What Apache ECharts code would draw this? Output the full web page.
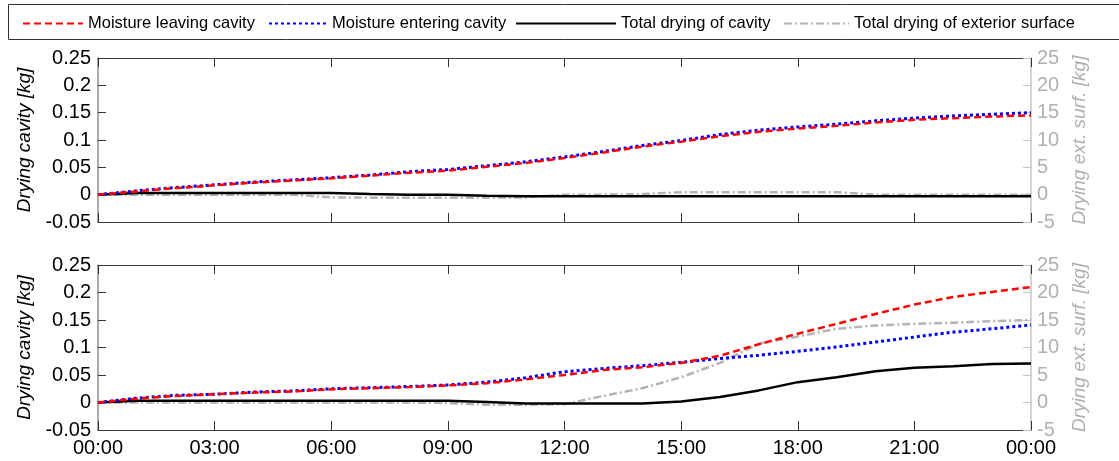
<!DOCTYPE html>
<html>
<head>
<meta charset="utf-8">
<script src="https://cdn.jsdelivr.net/npm/echarts@6/dist/echarts.min.js"></script>
<style>
  html, body { margin: 0; padding: 0; background: #fff; }
  #chart { width: 1119px; height: 461px; }
</style>
</head>
<body>
<div id="chart"></div>
<script>
const hours = [0, 1, 2, 3, 4, 5, 6, 7, 8, 9, 10, 11, 12, 13, 14, 15, 16, 17, 18, 19, 20, 21, 22, 23, 24]
const xTickLabels = ['00:00', '03:00', '06:00', '09:00', '12:00', '15:00', '18:00', '21:00', '00:00']

// upper panel
const topLeaving = [0, 0.006, 0.012, 0.017, 0.022, 0.026, 0.030, 0.035, 0.040, 0.044, 0.051, 0.058, 0.067, 0.077, 0.088, 0.097, 0.107, 0.115, 0.121, 0.126, 0.132, 0.137, 0.140, 0.143, 0.145]
const topEntering = [0, 0.007, 0.013, 0.018, 0.023, 0.027, 0.031, 0.036, 0.042, 0.046, 0.053, 0.060, 0.069, 0.079, 0.090, 0.099, 0.110, 0.118, 0.124, 0.129, 0.135, 0.140, 0.144, 0.147, 0.150]
const topCavity = [0, 0.003, 0.003, 0.003, 0.003, 0.003, 0.003, 0.001, 0, 0, -0.002, -0.003, -0.003, -0.003, -0.003, -0.003, -0.003, -0.003, -0.003, -0.003, -0.003, -0.003, -0.003, -0.003, -0.003]
const topSurface = [0, 0, 0, 0, 0, 0, -0.5, -0.55, -0.55, -0.55, -0.55, -0.5, 0, 0, 0.1, 0.45, 0.45, 0.45, 0.45, 0.45, 0, 0, 0, 0, 0]

// lower panel
const botLeaving = [0, 0.007, 0.012, 0.015, 0.018, 0.020, 0.024, 0.026, 0.028, 0.031, 0.035, 0.042, 0.050, 0.059, 0.064, 0.072, 0.085, 0.106, 0.125, 0.143, 0.161, 0.178, 0.192, 0.201, 0.210]
const botEntering = [0, 0.008, 0.013, 0.015, 0.019, 0.021, 0.025, 0.027, 0.029, 0.032, 0.037, 0.045, 0.056, 0.062, 0.067, 0.073, 0.080, 0.086, 0.093, 0.101, 0.110, 0.119, 0.128, 0.134, 0.141]
const botCavity = [0, 0.003, 0.003, 0.003, 0.003, 0.003, 0.003, 0.003, 0.003, 0.003, 0.001, -0.002, -0.002, -0.002, -0.002, 0.002, 0.010, 0.022, 0.037, 0.046, 0.057, 0.063, 0.066, 0.070, 0.071]
const botSurface = [0, 0, 0, 0, 0, 0, 0, 0, 0, -0.1, -0.4, -0.4, -0.3, 1.2, 2.6, 4.6, 7.2, 10.7, 12.0, 13.4, 14.0, 14.3, 14.5, 14.8, 15.0]

const names = ['Moisture leaving cavity', 'Moisture entering cavity', 'Total drying of cavity', 'Total drying of exterior surface']
const styles = [
  { color: '#ff0000', width: 2.5, type: [7, 4] },
  { color: '#0000ff', width: 3, type: [3, 3] },
  { color: '#000000', width: 2.5, type: 'solid' },
  { color: '#b4b4b4', width: 2.5, type: [8, 3, 2, 3] }
]

const font = "'Liberation Sans', Arial, sans-serif"
const greyText = '#b0b0b0'
const pair = vals => hours.map((h, i) => [h, vals[i]])

const xAxisFor = (gridIndex, position, showLabels) => ({
  type: 'value',
  gridIndex,
  position,
  min: 0,
  max: 24,
  interval: 3,
  axisLine: { show: true, onZero: false, lineStyle: { color: '#404040', width: 1 } },
  axisTick: { show: true, inside: true, length: 9, lineStyle: { color: '#333' } },
  axisLabel: {
    show: showLabels,
    margin: 8,
    color: '#000',
    fontSize: 20,
    fontFamily: font,
    formatter: v => xTickLabels[Math.round(v / 3)]
  },
  splitLine: { show: false }
})

const leftAxisFor = gridIndex => ({
  type: 'value',
  gridIndex,
  position: 'left',
  min: -0.05,
  max: 0.25,
  interval: 0.05,
  name: 'Drying cavity [kg]',
  nameLocation: 'middle',
  nameRotate: 90,
  nameGap: 64,
  nameTextStyle: { color: '#000', fontSize: 19, fontStyle: 'italic', fontFamily: font },
  axisLine: { show: true, onZero: false, lineStyle: { color: '#8c8c8c', width: 1.5 } },
  axisTick: { show: true, inside: true, length: 8, lineStyle: { color: '#333' } },
  axisLabel: { color: '#000', fontSize: 20, fontFamily: font, margin: 7 },
  splitLine: { show: false }
})

const rightAxisFor = gridIndex => ({
  type: 'value',
  gridIndex,
  position: 'right',
  min: -5,
  max: 25,
  interval: 5,
  name: 'Drying ext. surf. [kg]',
  nameLocation: 'middle',
  nameRotate: 90,
  nameGap: 35,
  nameTextStyle: { color: greyText, fontSize: 19, fontStyle: 'italic', fontFamily: font },
  axisLine: { show: true, onZero: false, lineStyle: { color: '#c4c4c4', width: 1.5 } },
  axisTick: { show: true, inside: true, length: 8, lineStyle: { color: '#c4c4c4' } },
  axisLabel: { color: greyText, fontSize: 20, fontFamily: font, margin: 6 },
  splitLine: { show: false }
})

const lineSeries = (idx, xAxisIndex, yAxisIndex, vals) => ({
  name: names[idx],
  type: 'line',
  xAxisIndex,
  yAxisIndex,
  symbol: 'none',
  data: pair(vals),
  lineStyle: { color: styles[idx].color, width: styles[idx].width, type: styles[idx].type },
  itemStyle: { color: styles[idx].color },
  z: 4 - idx
})

// one legend per item so each sample line can have its own length
const legendPos = [
  { left: 22, width: 60 },
  { left: 268, width: 58 },
  { left: 515, width: 100 },
  { left: 783, width: 65 }
]

const chart = echarts.init(document.getElementById('chart'))
chart.setOption({
  backgroundColor: '#fff',
  animation: false,
  textStyle: { fontFamily: font },
  graphic: [{
    type: 'rect',
    shape: { x: 8.5, y: 4.5, width: 1125, height: 35 },
    style: { fill: 'none', stroke: '#333', lineWidth: 1 },
    silent: true
  }],
  legend: legendPos.map((p, i) => ({
    data: [names[i]],
    left: p.left,
    top: 15,
    padding: 0,
    itemWidth: p.width,
    itemHeight: 16,
    itemStyle: { opacity: 0 },
    textStyle: { color: '#000', fontSize: 16.5, fontFamily: font }
  })),
  grid: [
    { left: 98, right: 88, top: 58, height: 164 },
    { left: 98, right: 88, top: 265, height: 165 }
  ],
  xAxis: [
    xAxisFor(0, 'bottom', false),
    xAxisFor(0, 'top', false),
    xAxisFor(1, 'bottom', true),
    xAxisFor(1, 'top', false)
  ],
  yAxis: [leftAxisFor(0), rightAxisFor(0), leftAxisFor(1), rightAxisFor(1)],
  series: [
    lineSeries(0, 0, 0, topLeaving),
    lineSeries(1, 0, 0, topEntering),
    lineSeries(2, 0, 0, topCavity),
    lineSeries(3, 0, 1, topSurface),
    lineSeries(0, 2, 2, botLeaving),
    lineSeries(1, 2, 2, botEntering),
    lineSeries(2, 2, 2, botCavity),
    lineSeries(3, 2, 3, botSurface)
  ]
})
</script>
</body>
</html>
